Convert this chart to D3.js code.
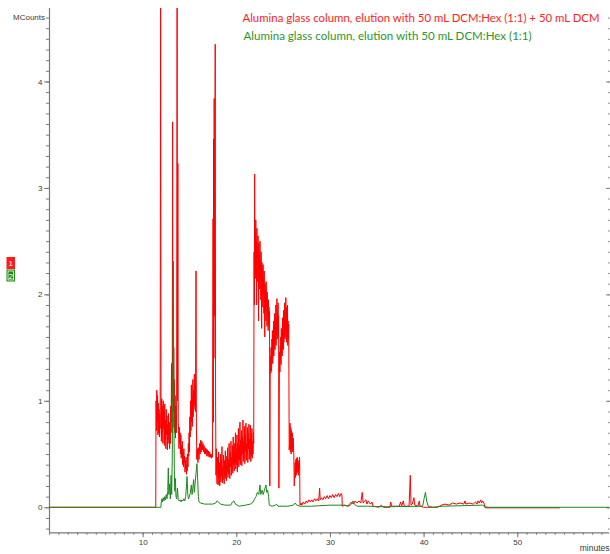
<!DOCTYPE html>
<html>
<head>
<meta charset="utf-8">
<script src="https://cdn.jsdelivr.net/npm/d3@7"></script>
<style>
  html, body { margin: 0; padding: 0; background: #fff; }
  svg { display: block; }
</style>
</head>
<body>
<svg id="chart" width="610" height="554"></svg>
<script>
// ---------------- data ----------------
const seriesNames = [
  "Alumina glass column, elution with 50 mL DCM:Hex (1:1) + 50 mL DCM",
  "Alumina glass column, elution with 50 mL DCM:Hex (1:1)"
];
const seriesIds = ["1", "2"];
const xTickValues = [10, 20, 30, 40, 50];
const yTickValues = [0, 1, 2, 3, 4];
const yUnitLabel = "MCounts";
const xUnitLabel = "minutes";

// series 1 (red): [minutes, MCounts]
const redSignal = [
  [0,0],[11.40,0],
  [11.43,1.0],[11.47,0.72],[11.51,1.1],[11.55,0.8],[11.59,1.05],[11.63,0.68],[11.67,0.98],[11.71,0.7],[11.75,0.92],[11.79,0.66],[11.83,0.88],[11.87,0.74],
  [11.92,5.2],[11.96,0.85],
  [12.00,0.62],[12.04,1.02],[12.08,0.7],[12.12,0.95],[12.16,0.6],[12.20,1.0],[12.24,0.74],[12.28,0.9],[12.32,0.58],[12.36,0.97],[12.40,0.64],[12.44,0.82],[12.48,0.55],[12.52,0.92],[12.56,0.68],[12.60,0.86],[12.64,0.54],[12.68,0.78],[12.72,0.6],[12.76,0.88],[12.80,0.64],[12.84,0.8],[12.88,0.55],[12.92,0.72],[12.96,0.6],[13.00,0.95],[13.04,0.7],[13.08,1.35],[13.12,0.8],[13.16,1.1],
  [13.20,3.62],[13.23,1.0],[13.26,1.9],[13.29,0.9],[13.32,1.5],[13.35,0.75],[13.39,1.2],[13.43,0.7],[13.47,1.05],[13.51,0.65],[13.55,0.95],[13.59,0.7],[13.63,0.9],
  [13.68,5.2],[13.72,1.0],[13.76,3.23],[13.80,0.8],[13.84,0.72],[13.88,0.55],[13.92,0.75],[13.96,0.6],[14.00,0.7],[14.04,0.5],[14.08,0.68],[14.12,0.46],[14.16,0.58],[14.20,0.48],[14.24,0.62],[14.28,0.4],[14.32,0.52],[14.36,0.38],[14.40,0.55],[14.44,0.42],[14.48,0.48],[14.52,0.33],[14.56,0.44],[14.60,0.36],[14.64,0.47],[14.68,0.31],[14.72,0.4],[14.76,0.34],[14.80,0.5],[14.84,0.38],[14.88,0.6],[14.92,0.48],[14.96,0.7],[15.00,0.52],[15.04,0.85],[15.08,0.66],[15.12,1.0],[15.16,0.72],[15.20,1.15],[15.24,0.8],[15.28,1.05],[15.32,0.76],[15.36,1.2],[15.40,0.85],[15.44,1.1],[15.48,0.92],[15.52,1.25],[15.56,0.95],[15.60,1.15],[15.64,0.9],
  [15.70,2.22],[15.74,0.8],
  [15.78,0.45],[15.84,0.55],[15.90,0.42],[15.96,0.56],[16.02,0.45],[16.08,0.6],[16.14,0.5],[16.20,0.63],[16.26,0.52],[16.32,0.62],[16.38,0.54],[16.44,0.6],[16.50,0.52],[16.56,0.58],[16.62,0.5],[16.68,0.56],[16.74,0.5],[16.80,0.55],[16.86,0.48],[16.92,0.54],[16.98,0.48],[17.04,0.53],[17.10,0.47],[17.16,0.52],[17.22,0.47],[17.28,0.5],[17.34,0.46],[17.40,0.5],[17.46,0.47],
  [17.52,2.71],[17.55,0.8],[17.58,3.46],[17.61,1.4],[17.64,3.84],[17.68,1.8],[17.75,4.35],[17.79,1.0],[17.83,0.3],
  [17.87,0.55],[17.91,0.3],[17.95,0.22],[17.99,0.47],[18.03,0.36],[18.07,0.21],[18.11,0.52],[18.15,0.28],[18.19,0.42],[18.23,0.2],[18.27,0.33],[18.31,0.5],[18.35,0.24],[18.39,0.45],[18.43,0.29],[18.47,0.57],[18.51,0.23],[18.55,0.38],[18.59,0.26],[18.63,0.49],[18.67,0.34],[18.71,0.22],[18.75,0.44],[18.79,0.3],[18.83,0.53],[18.87,0.27],[18.91,0.4],[18.95,0.25],[18.99,0.48],[19.03,0.33],[19.07,0.56],[19.11,0.28],[19.15,0.45],[19.19,0.31],[19.23,0.6],[19.27,0.36],[19.31,0.27],[19.35,0.52],[19.39,0.38],[19.43,0.62],[19.47,0.3],[19.51,0.47],[19.55,0.35],[19.59,0.58],[19.63,0.32],[19.67,0.66],[19.71,0.4],[19.75,0.52],[19.79,0.34],[19.83,0.6],[19.87,0.42],[19.91,0.7],[19.95,0.36],[19.99,0.55],[20.03,0.4],[20.07,0.68],[20.11,0.33],[20.15,0.6],[20.19,0.45],[20.23,0.74],[20.27,0.38],[20.31,0.58],[20.35,0.44],[20.39,0.8],[20.43,0.4],[20.47,0.63],[20.51,0.48],[20.55,0.72],[20.59,0.39],[20.63,0.66],[20.67,0.5],[20.71,0.82],[20.75,0.43],[20.79,0.62],[20.83,0.47],[20.87,0.76],[20.91,0.41],[20.95,0.68],[20.99,0.52],[21.03,0.79],[21.07,0.44],[21.11,0.6],[21.15,0.49],[21.19,0.75],[21.23,0.42],[21.27,0.7],[21.31,0.55],[21.35,0.78],[21.39,0.45],[21.43,0.64],[21.47,0.5],[21.51,0.77],[21.55,0.43],[21.59,0.69],[21.63,0.48],[21.67,0.74],[21.71,0.46],[21.75,0.62],[21.79,0.5],[21.83,0.7],
  [21.86,0.6],[21.90,2.4],[21.93,1.9],[21.96,3.13],[21.99,2.3],[22.02,2.6],[22.05,2.15],[22.08,2.7],[22.11,2.3],[22.14,2.5],[22.17,1.9],[22.20,2.62],[22.23,2.28],[22.26,2.45],[22.29,2.12],[22.32,2.55],[22.35,2.3],[22.38,1.75],[22.41,2.48],[22.44,2.2],[22.47,2.38],[22.50,2.05],[22.53,2.5],[22.56,2.15],[22.59,2.32],[22.62,1.95],[22.65,2.4],[22.68,2.1],[22.71,1.68],[22.74,2.3],[22.77,2.0],[22.80,2.25],[22.83,1.88],[22.86,2.28],[22.89,2.02],[22.92,2.15],[22.95,1.82],[22.98,2.22],[23.01,1.95],[23.04,1.6],[23.07,2.1],[23.10,1.85],[23.13,2.05],[23.16,1.75],[23.19,2.12],[23.22,1.88],[23.25,1.98],[23.28,1.7],[23.31,2.02],[23.34,1.8],[23.37,1.92],[23.40,1.66],[23.43,1.95],[23.46,1.72],[23.49,1.88],[23.52,1.7],[23.55,1.84],
  [23.58,0.2],
  [23.62,1.3],[23.65,1.42],[23.68,1.26],[23.71,1.5],[23.74,1.36],[23.77,1.28],[23.80,1.58],[23.83,1.4],[23.86,1.66],[23.89,1.35],[23.92,1.55],[23.95,1.45],[23.98,1.75],[24.01,1.42],[24.04,1.62],[24.07,1.5],[24.10,1.82],[24.13,1.48],[24.16,1.7],[24.19,1.56],[24.22,1.9],[24.25,1.52],[24.28,1.78],[24.31,1.62],[24.34,1.96],[24.37,1.58],[24.40,1.85],[24.43,1.66],[24.46,1.92],[24.49,1.6],[24.52,1.8],
  [24.55,0.18],
  [24.60,1.3],[24.63,1.46],[24.66,1.27],[24.69,1.52],[24.72,1.38],[24.75,1.6],[24.78,1.34],[24.81,1.68],[24.84,1.45],[24.87,1.58],[24.90,1.42],[24.93,1.78],[24.96,1.5],[24.99,1.7],[25.02,1.48],[25.05,1.85],[25.08,1.55],[25.11,1.76],[25.14,1.6],[25.17,1.92],[25.20,1.58],[25.23,1.82],[25.26,1.66],[25.29,1.97],[25.32,1.6],[25.35,1.88],[25.38,1.55],[25.41,1.8],[25.44,1.62],[25.47,1.9],[25.50,1.52],[25.53,1.75],[25.56,1.58],[25.60,1.72],
  [25.65,0.54],[25.70,0.6],[25.74,0.79],[25.78,0.52],[25.82,0.75],[25.86,0.5],[25.90,0.72],[25.94,0.55],[25.98,0.7],[26.02,0.52],[26.08,0.65],[26.14,0.5],
  [26.19,0.2],[26.24,0.3],[26.28,0.42],[26.32,0.28],[26.36,0.45],[26.40,0.3],[26.44,0.46],[26.48,0.32],[26.52,0.47],[26.56,0.33],[26.60,0.44],[26.64,0.3],[26.68,0.42],[26.72,0.35],[26.76,0.47],
  [26.80,0.02],[26.9,0.04],[27.0,0.02],[27.15,0.05],[27.3,0.03],[27.45,0.06],[27.6,0.04],[27.75,0.07],[27.9,0.05],[28.05,0.07],[28.2,0.05],[28.35,0.08],[28.5,0.06],[28.65,0.08],[28.8,0.06],[28.9,0.18],[28.96,0.07],[29.1,0.09],[29.25,0.07],[29.4,0.1],[29.55,0.08],[29.7,0.11],[29.85,0.08],[30.0,0.11],[30.15,0.09],[30.3,0.12],[30.45,0.09],[30.6,0.12],[30.75,0.1],[30.9,0.13],[31.05,0.1],[31.2,0.13],[31.28,0.11],[31.32,0.01],[31.6,0.02],[31.9,0.01],[32.1,0.03],[32.3,0.05],[32.5,0.03],[32.7,0.06],[32.9,0.04],[33.1,0.06],[33.3,0.04],[33.45,0.14],[33.55,0.04],[33.7,0.06],[33.85,0.07],[33.95,0.03],[34.1,0.06],[34.3,0.03],[34.5,0.05],[34.6,0.01],[35.2,0.0],[35.5,0.02],[35.7,0.0],[36.4,0.0],[36.49,0.05],[36.58,0.01],[37.4,0.01],[37.55,0.05],[37.65,0.01],[37.84,0.06],[37.93,0.01],[38.45,0.01],[38.58,0.30],[38.66,0.02],[38.8,0.03],[38.97,0.09],[39.06,0.02],[39.4,0.01],[39.54,0.06],[39.62,0.01],[40.0,0.0],[41.5,0.0],[41.9,0.02],[42.3,0.03],[42.7,0.02],[43.1,0.04],[43.5,0.03],[43.9,0.04],[44.3,0.03],[44.42,0.06],[44.52,0.03],[44.9,0.04],[45.3,0.03],[45.55,0.05],[45.7,0.03],[45.8,0.06],[45.95,0.04],[46.1,0.07],[46.2,0.04],[46.3,0.06],[46.45,0.04],[46.56,-0.005],[54.56,-0.005]
];

// series 2 (green): [minutes, MCounts]
const greenSignal = [
  [0,0],[11.95,0],[12.0,0.06],[12.06,0.08],[12.12,0.05],[12.2,0.09],[12.28,0.06],[12.36,0.1],[12.44,0.07],[12.52,0.12],[12.6,0.08],[12.68,0.15],[12.74,0.37],[12.8,0.12],[12.88,0.22],[12.96,0.08],[13.04,0.3],[13.1,0.12],[13.16,0.45],[13.22,1.1],[13.28,2.31],[13.33,1.0],[13.38,0.35],[13.44,0.15],[13.5,0.27],[13.56,0.1],[13.64,0.08],[13.72,0.18],[13.8,0.07],[13.9,0.06],[14.0,0.07],[14.1,0.05],[14.2,0.07],[14.3,0.06],[14.4,0.08],[14.5,0.06],[14.6,0.1],[14.74,0.29],[14.82,0.12],[14.9,0.08],[15.0,0.1],[15.1,0.14],[15.2,0.21],[15.28,0.12],[15.36,0.18],[15.44,0.26],[15.52,0.14],[15.6,0.22],[15.7,0.32],[15.8,0.41],[15.88,0.25],[15.95,0.1],[16.02,0.05],[16.2,0.04],[16.6,0.03],[17.0,0.03],[17.5,0.03],[17.8,0.04],[17.95,0.06],[18.1,0.05],[18.3,0.03],[18.8,0.02],[19.4,0.02],[19.6,0.05],[19.75,0.06],[19.9,0.03],[20.3,0.01],[21.0,0.02],[21.5,0.03],[21.8,0.05],[21.95,0.08],[22.1,0.1],[22.25,0.14],[22.4,0.12],[22.53,0.21],[22.62,0.12],[22.75,0.16],[22.88,0.12],[23.0,0.16],[23.1,0.19],[23.17,0.21],[23.25,0.14],[23.35,0.16],[23.45,0.1],[23.52,0.02],[23.8,0.01],[24.2,0.02],[24.3,0.03],[24.45,0.01],[25.5,0.01],[26.1,0.02],[26.3,0.04],[26.45,0.02],[26.8,0.01],[28.0,0.01],[30.0,0.02],[31.5,0.02],[32.0,0.01],[32.3,0.03],[32.46,0.06],[32.6,0.03],[32.9,0.01],[34.0,0.01],[36.0,0.005],[39.9,0.01],[40.05,0.08],[40.2,0.14],[40.35,0.05],[40.5,0.01],[41.0,0.0],[42.0,0.01],[46.3,0.02],[46.56,0.005],[47.0,0.0],[59.8,0.0]
];

// ---------------- drawing ----------------
const svg = d3.select("#chart");
const W = 610, H = 554;
svg.append("rect").attr("width", W).attr("height", H).attr("fill", "#fff");

const x = d3.scaleLinear().domain([0, 59.8]).range([49, 609]);
const y = d3.scaleLinear().domain([-0.235, 4.69]).range([532.3, 8]);

const axisColor = "#7a7a7a";
const labelColor = "#3a3a3a";
const fontFam = "'Liberation Sans', Arial, sans-serif";

svg.append("clipPath").attr("id", "plotclip")
  .append("rect").attr("x", 49).attr("y", 8).attr("width", 560).attr("height", 524.3);

// Left axis: minor ticks
const minorY = d3.range(-2, 47).map(d => d / 10);
const gLeftMinor = svg.append("g").attr("transform", "translate(49,0)")
  .call(d3.axisLeft(y).tickValues(minorY).tickSize(3).tickFormat(""));
gLeftMinor.select(".domain").remove();
const gLeft = svg.append("g").attr("transform", "translate(49,0)")
  .call(d3.axisLeft(y).tickValues(yTickValues).tickSize(5).tickPadding(1.5).tickFormat(d3.format("d")));
gLeft.select(".domain").remove();
[gLeftMinor, gLeft].forEach(g => g.selectAll("line").attr("stroke", axisColor));
gLeft.selectAll("text").attr("fill", labelColor).style("font-family", fontFam).style("font-size", "8px");
svg.append("line").attr("x1", 49.5).attr("x2", 49.5).attr("y1", 8).attr("y2", 532.3)
  .attr("stroke", axisColor).attr("stroke-width", 1.2);
svg.append("text").attr("x", 45).attr("y", y(4.6)).attr("dy", "0.32em")
  .attr("text-anchor", "end").attr("fill", labelColor)
  .style("font-family", fontFam).style("font-size", "8px").text(yUnitLabel);

// Right axis ticks
const gRightMinor = svg.append("g").attr("transform", "translate(609.5,0)")
  .call(d3.axisLeft(y).tickValues(minorY).tickSize(1.5).tickFormat(""));
const gRight = svg.append("g").attr("transform", "translate(609.5,0)")
  .call(d3.axisLeft(y).tickValues(yTickValues).tickSize(3.5).tickFormat(""));
[gRightMinor, gRight].forEach(g => { g.select(".domain").remove(); g.selectAll("line").attr("stroke", axisColor); });

// Bottom axis
const minorX = d3.range(0, 60);
const gBotMinor = svg.append("g").attr("transform", "translate(0,532.3)")
  .call(d3.axisBottom(x).tickValues(minorX).tickSize(2.5).tickFormat(""));
gBotMinor.select(".domain").remove();
const gBot = svg.append("g").attr("transform", "translate(0,532.3)")
  .call(d3.axisBottom(x).tickValues(xTickValues).tickSize(5).tickPadding(2.5).tickFormat(d3.format("d")));
gBot.select(".domain").remove();
[gBotMinor, gBot].forEach(g => g.selectAll("line").attr("stroke", axisColor));
gBot.selectAll("text").attr("fill", labelColor).style("font-family", fontFam).style("font-size", "8px");
svg.append("line").attr("x1", 49).attr("x2", 609).attr("y1", 532.8).attr("y2", 532.8)
  .attr("stroke", axisColor).attr("stroke-width", 1.2);
svg.append("text").attr("x", 609.5).attr("y", 551).attr("text-anchor", "end")
  .attr("fill", labelColor).style("font-family", fontFam).style("font-size", "8.5px").text(xUnitLabel);

// Traces
const line = d3.line().x(d => x(d[0])).y(d => y(d[1]));
const plot = svg.append("g").attr("clip-path", "url(#plotclip)");
plot.append("path").datum(redSignal).attr("d", line)
  .attr("fill", "none").attr("stroke", "#ff0000").attr("stroke-width", 1).attr("stroke-linejoin", "round");
plot.append("path").datum(greenSignal).attr("d", line)
  .attr("fill", "none").attr("stroke", "#1a8a1a").attr("stroke-width", 1).attr("stroke-linejoin", "round");

// Legend text
const legendColors = ["#ff2222", "#2a962a"];
const legendX = [242.5, 243.5], legendY = [21.5, 39.5], legendLen = [357, 288];
seriesNames.forEach((name, i) => {
  svg.append("text").attr("x", legendX[i]).attr("y", legendY[i])
    .attr("fill", legendColors[i])
    .attr("textLength", legendLen[i]).attr("lengthAdjust", "spacingAndGlyphs")
    .style("font-family", "Lato, 'Open Sans', sans-serif").style("font-size", "11px")
    .text(name);
});

// Trace id markers on the left
const markerColors = ["#ff1a1a", "#1a8a1a"];
const markerY = [257, 269.5];
seriesIds.forEach((id, i) => {
  svg.append("rect").attr("x", 6.5).attr("y", markerY[i]).attr("width", 8.5).attr("height", 12)
    .attr("fill", markerColors[i]);
  if (i === 1) {
    svg.append("rect").attr("x", 8).attr("y", markerY[i] + 1.5).attr("width", 5.5).attr("height", 9)
      .attr("fill", "none").attr("stroke", "#fff").attr("stroke-width", 0.8);
  }
  svg.append("text").attr("x", 10.75).attr("y", markerY[i] + 9.2).attr("text-anchor", "middle")
    .attr("fill", "#fff").style("font-family", fontFam).style("font-size", "8px").text(id);
});
</script>
</body>
</html>
